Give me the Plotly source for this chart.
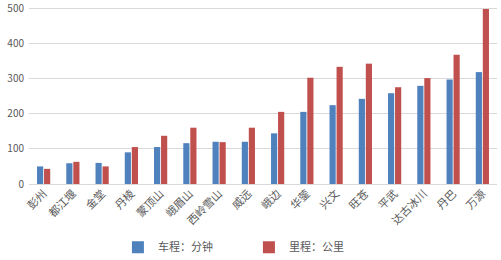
import plotly.graph_objects as go

categories = ["彭州", "都江堰", "金堂", "丹棱", "蒙顶山", "峨眉山", "西岭雪山", "威远",
              "峨边", "华蓥", "兴文", "旺苍", "平武", "达古冰川", "丹巴", "万源"]
drive_minutes = [50, 59, 60, 90, 105, 116, 120, 120, 144, 205, 224, 242, 258, 279, 297, 318]
distance_km = [43, 63, 50, 105, 137, 160, 119, 160, 205, 302, 333, 342, 275, 301, 367, 497]
y_ticks = [0, 100, 200, 300, 400, 500]

fig = go.Figure()
fig.add_trace(go.Bar(x=categories, y=drive_minutes, name="车程：分钟",
                     marker=dict(color="#4F81BD", line=dict(width=0))))
fig.add_trace(go.Bar(x=categories, y=distance_km, name="里程：公里",
                     marker=dict(color="#C0504D", line=dict(width=0))))

fig.update_layout(
    width=501, height=260,
    margin=dict(l=29, r=4, t=7, b=76),
    paper_bgcolor="white", plot_bgcolor="white",
    barmode="group", bargap=0.52, bargroupgap=0.12,
    font=dict(family="Noto Sans CJK SC, sans-serif", size=10, color="#595959"),
    xaxis=dict(tickangle=-45, showgrid=False, showline=False, ticks="",
               automargin=False, tickfont=dict(size=11, color="#595959")),
    yaxis=dict(range=[0, 503], tickvals=y_ticks, showgrid=True, gridcolor="#D9D9D9",
               gridwidth=1, zeroline=True, zerolinecolor="#D9D9D9", zerolinewidth=1,
               automargin=False, ticklabeloverflow="allow",
               tickfont=dict(size=10, color="#595959"), ticks="", ticklabelstandoff=4),
    legend=dict(orientation="h", xref="paper", x=0.19, xanchor="left",
                yref="container", y=0.105, yanchor="top",
                font=dict(size=11, color="#595959"), itemwidth=30,
                entrywidth=86),
    showlegend=True,
)

fig.write_html("out.html")
